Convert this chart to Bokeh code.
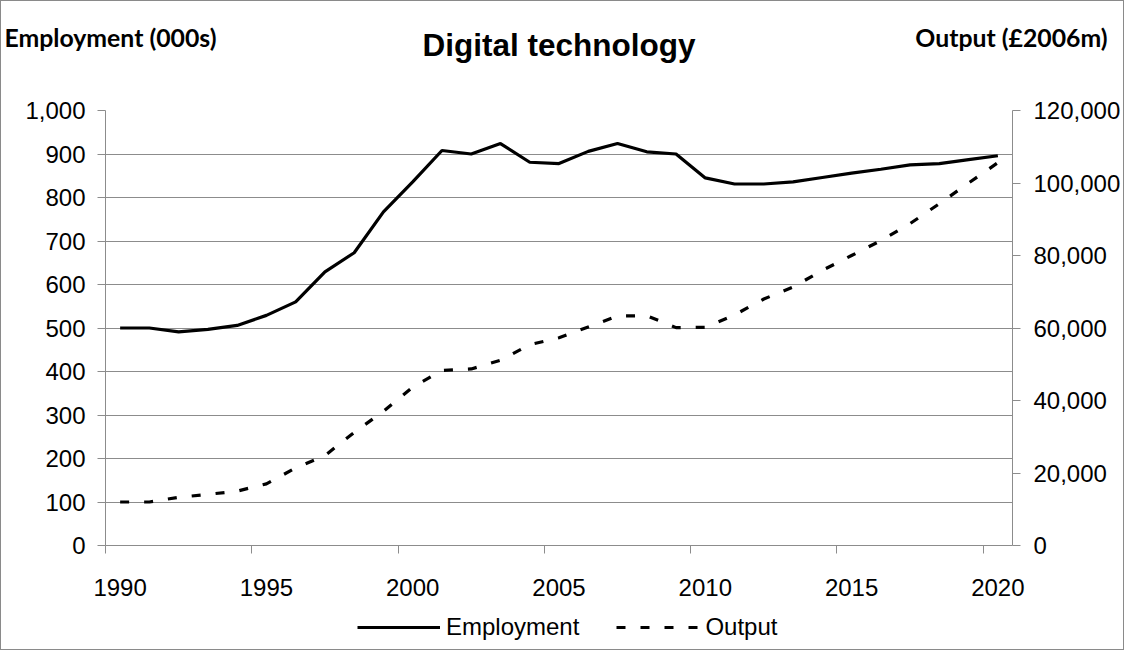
from bokeh.plotting import figure
from bokeh.layouts import column
from bokeh.models import (Range1d, LinearAxis, FixedTicker, NumeralTickFormatter,
                          Legend, LegendItem)
from bokeh.embed import file_html
from bokeh.resources import INLINE

# ---- data ----
years = list(range(1990, 2021))
employment = [500, 500, 491, 497, 506, 529, 560, 629, 673, 767,
              836, 908, 900, 924, 881, 878, 906, 924, 905, 900,
              845, 831, 831, 836, 846, 856, 865, 875, 878, 887,
              896]
output = [12000, 12000, 13300, 14100, 15000, 17000, 21400, 24800, 31200, 37000,
          43700, 48300, 48700, 51100, 55400, 57300, 60300, 63300, 63400, 60100,
          60200, 63600, 68000, 71300, 75900, 80000, 84100, 88800, 94300, 100000,
          105600]
x_labels = [1990, 1995, 2000, 2005, 2010, 2015, 2020]
left_ticks = list(range(0, 1001, 100))
right_ticks = list(range(0, 120001, 20000))
series_names = ["Employment", "Output"]

title_text = "Digital technology"
left_title = "Employment (000s)"
right_title = "Output (£2006m)"

GRID = "#8c8c8c"
FONT = "Liberation Sans"
W = 1122
FRAME_W = 911
LINE_W = 3.2
DASH = "9 15"

# ---------- main chart ----------
p = figure(width=W, height=604, output_backend="svg", toolbar_location=None,
           x_range=Range1d(years[0] - 0.5, years[-1] + 0.5),
           y_range=Range1d(0, 1000),
           min_border_left=104, min_border_right=107,
           min_border_top=109, min_border_bottom=60)
p.outline_line_color = None
p.xgrid.visible = False
p.ygrid.ticker = FixedTicker(ticks=left_ticks)
p.ygrid.grid_line_color = GRID
p.ygrid.grid_line_width = 1

p.extra_y_ranges = {"out": Range1d(0, 120000)}
p.extra_x_ranges = {"hdr": Range1d(0, FRAME_W + 1)}   # pixel positions across the frame

p.line(years, employment, line_color="black", line_width=LINE_W)
p.line(years, output, line_color="black", line_width=LINE_W,
       line_dash=DASH, y_range_name="out")

# bottom axis: year labels at categories, tick marks between categories
xa = p.xaxis[0]
boundaries = [y - 0.5 for y in x_labels]
xa.ticker = FixedTicker(ticks=x_labels, minor_ticks=boundaries)
xa.major_tick_line_color = None
xa.major_tick_out = 0
xa.major_tick_in = 0
xa.minor_tick_out = 8
xa.minor_tick_in = 0
xa.minor_tick_line_color = GRID
xa.axis_line_color = GRID
xa.major_label_standoff = 25
xa.major_label_text_font = FONT
xa.major_label_text_font_size = "24px"
xa.major_label_text_color = "black"

# left axis
ya = p.yaxis[0]
ya.ticker = FixedTicker(ticks=left_ticks)
ya.formatter = NumeralTickFormatter(format="0,0")
ya.axis_line_color = GRID
ya.major_tick_line_color = GRID
ya.major_tick_out = 8
ya.major_tick_in = 0
ya.minor_tick_line_color = None
ya.major_label_standoff = 12
ya.major_label_text_font = FONT
ya.major_label_text_font_size = "24px"
ya.major_label_text_color = "black"

# right axis
ra = LinearAxis(y_range_name="out", ticker=FixedTicker(ticks=right_ticks),
                formatter=NumeralTickFormatter(format="0,0"))
ra.axis_line_color = GRID
ra.major_tick_line_color = GRID
ra.major_tick_out = 8
ra.major_tick_in = 0
ra.minor_tick_line_color = None
ra.major_label_standoff = 13
ra.major_label_text_font = FONT
ra.major_label_text_font_size = "24px"
ra.major_label_text_color = "black"
p.add_layout(ra, "right")

# header: axis titles as labels of an invisible top axis, chart title as its axis label
hdr_ticks = [5, FRAME_W]
hdr = LinearAxis(x_range_name="hdr", ticker=FixedTicker(ticks=hdr_ticks),
                 major_label_overrides={hdr_ticks[0]: left_title, hdr_ticks[1]: right_title},
                 axis_label=title_text)
hdr.axis_line_color = None
hdr.major_tick_line_color = None
hdr.minor_tick_line_color = None
hdr.major_tick_out = 0
hdr.major_tick_in = 0
hdr.major_label_standoff = 59
hdr.major_label_text_font = "Lato"
hdr.major_label_text_font_style = "bold"
hdr.major_label_text_font_size = "24.8px"
hdr.major_label_text_color = "black"
hdr.axis_label_standoff = -43
hdr.axis_label_text_font = FONT
hdr.axis_label_text_font_style = "bold"
hdr.axis_label_text_font_size = "31.5px"
hdr.axis_label_text_color = "black"
p.add_layout(hdr, "above")

# ---------- legend strip ----------
leg = figure(width=W, height=44, output_backend="svg", toolbar_location=None,
             x_range=Range1d(0, 1), y_range=Range1d(0, 1),
             min_border=0, outline_line_color=None)
leg.axis.visible = False
leg.grid.visible = False
# the series are drawn outside this strip's ranges; only their legend keys show
k_emp = leg.line(years, employment, line_color="black", line_width=LINE_W)
k_out = leg.line(years, output, line_color="black", line_width=LINE_W, line_dash=DASH)
legend = Legend(items=[LegendItem(label=series_names[0], renderers=[k_emp]),
                       LegendItem(label=series_names[1], renderers=[k_out])],
                orientation="horizontal", location=(252, 8),
                glyph_width=83, glyph_height=20, label_standoff=6, spacing=37,
                padding=0, margin=0, border_line_color=None,
                background_fill_alpha=0,
                label_text_font=FONT, label_text_font_size="24px",
                label_text_color="black")
leg.add_layout(legend)

layout = column(p, leg, spacing=0)
layout.styles = {"border": "1px solid #8a8a8a"}

open("out.html", "w").write(file_html(layout, INLINE))
